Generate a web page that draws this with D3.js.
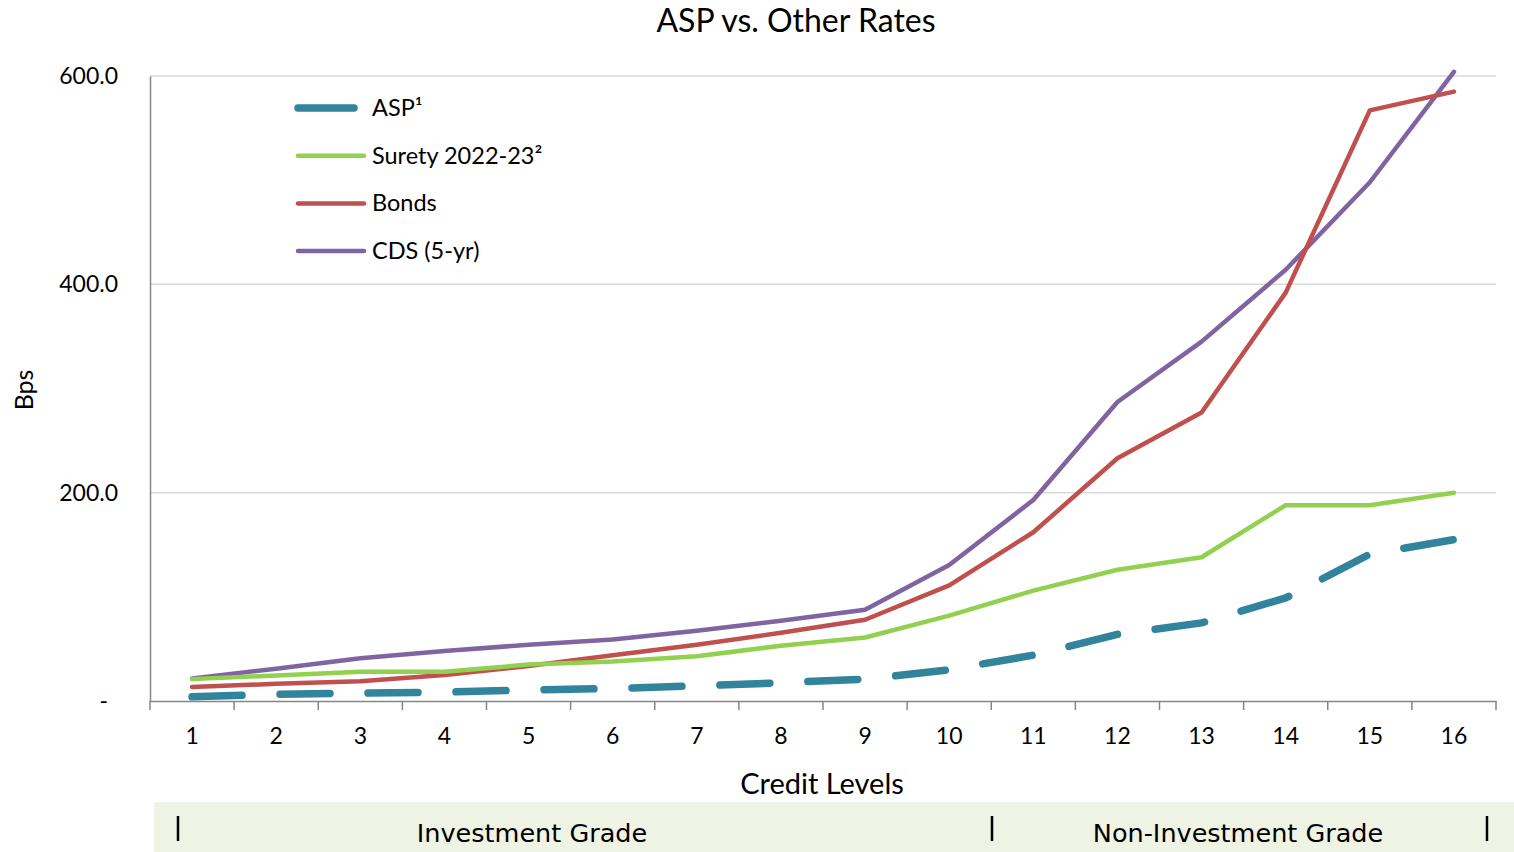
<!DOCTYPE html>
<html>
<head>
<meta charset="utf-8">
<script src="https://cdn.jsdelivr.net/npm/d3@7"></script>
<style>
  body { margin: 0; background: #fff; }
  svg { display: block; }
</style>
</head>
<body>
<div id="chart"></div>
<script>
// data
var levels = ["1","2","3","4","5","6","7","8","9","10","11","12","13","14","15","16"];
var asp    = [4, 6.5, 7.5, 8.5, 10.5, 12, 14.5, 17.5, 21, 30, 44, 64, 75, 99, 141, 155];
var surety = [21, 24.5, 28, 28, 35, 38, 43, 53, 61, 82, 106, 126, 138, 188, 188, 200];
var bonds  = [13.5, 16.5, 19, 25, 33.5, 44, 54, 65.5, 78, 111, 162, 233, 277, 392, 567, 585];
var cds    = [21.5, 31, 41, 48, 54, 59, 67.5, 77, 87.5, 130.5, 193, 287, 345, 414, 498, 604];
var yTicks = [0, 200, 400, 600];
var seriesNames = ["ASP\u00b9", "Surety 2022-23\u00b2", "Bonds", "CDS (5-yr)"];
var seriesColors = ["#31849B", "#92D050", "#C0504D", "#8064A2"];
var groups = [{name: "Investment Grade", from: 0, to: 10}, {name: "Non-Investment Grade", from: 10, to: 16}];

var W = 1514, H = 852;
var plotL = 150, plotR = 1496, plotT = 76, plotB = 701;

var svg = d3.select("#chart").append("svg")
    .attr("width", W)
    .attr("height", H)
    .style("font-family", "Lato, 'Open Sans', sans-serif");

var x = d3.scaleBand().domain(levels).range([plotL, plotR]);
var y = d3.scaleLinear().domain([0, 600]).range([plotB, plotT]);

// title
svg.append("text")
    .attr("x", 796).attr("y", 32)
    .attr("text-anchor", "middle")
    .attr("font-size", 32)
    .text("ASP vs. Other Rates");

// gridlines
svg.append("g").selectAll("line")
    .data(yTicks.filter(function(d){ return d > 0; }))
    .join("line")
    .attr("x1", plotL).attr("x2", plotR)
    .attr("y1", function(d){ return y(d); })
    .attr("y2", function(d){ return y(d); })
    .attr("stroke", "#d9d9d9")
    .attr("stroke-width", 1.5);

// y axis
var yAxis = svg.append("g")
    .attr("transform", "translate(" + plotL + ",0)")
    .call(d3.axisLeft(y).tickValues(yTicks).tickSize(0).tickPadding(32)
        .tickFormat(function(d){ return d === 0 ? "-" : d3.format(".1f")(d); }));
yAxis.select(".domain").attr("stroke", "#868686").attr("stroke-width", 1.5);
yAxis.selectAll("text").attr("font-size", 23).attr("fill", "#000")
    .style("font-family", "Lato, sans-serif");
yAxis.selectAll(".tick").filter(function(d){ return d === 0; })
    .select("text").attr("dx", -10);

// x axis
var xAxis = svg.append("g")
    .attr("transform", "translate(0," + plotB + ")")
    .call(d3.axisBottom(x).tickSize(0).tickPadding(27));
xAxis.select(".domain").attr("stroke", "#868686").attr("stroke-width", 1.5);
xAxis.selectAll("text").attr("font-size", 23).attr("fill", "#000")
    .style("font-family", "Lato, sans-serif");

// tick marks between categories
var bounds = d3.range(levels.length + 1).map(function(i){ return plotL + i * x.step(); });
svg.append("g").selectAll("line")
    .data(bounds)
    .join("line")
    .attr("x1", function(d){ return d; }).attr("x2", function(d){ return d; })
    .attr("y1", plotB).attr("y2", plotB + 9)
    .attr("stroke", "#868686")
    .attr("stroke-width", 1.5);

// axis titles
svg.append("text")
    .attr("x", 822).attr("y", 794)
    .attr("text-anchor", "middle")
    .attr("font-size", 29)
    .text("Credit Levels");

svg.append("text")
    .attr("transform", "translate(33,390) rotate(-90)")
    .attr("text-anchor", "middle")
    .attr("font-size", 25)
    .text("Bps");

// lines
var line = d3.line()
    .x(function(d, i){ return x(levels[i]) + x.bandwidth() / 2; })
    .y(function(d){ return y(d); });

var allSeries = [cds, bonds, surety, asp];
var order = [3, 2, 1, 0];
svg.append("g").selectAll("path")
    .data(allSeries)
    .join("path")
    .attr("d", line)
    .attr("fill", "none")
    .attr("stroke", function(d, i){ return seriesColors[order[i]]; })
    .attr("stroke-width", function(d, i){ return order[i] === 0 ? 7.5 : 4.5; })
    .attr("stroke-dasharray", function(d, i){ return order[i] === 0 ? "50,38" : null; })
    .attr("stroke-linecap", "round")
    .attr("stroke-linejoin", "round");

// legend
var legend = svg.append("g").selectAll("g")
    .data(seriesNames)
    .join("g")
    .attr("transform", function(d, i){ return "translate(0," + (108 + i * 47.7) + ")"; });
legend.append("line")
    .attr("x1", 298).attr("x2", function(d, i){ return i === 0 ? 354 : 364; })
    .attr("stroke", function(d, i){ return seriesColors[i]; })
    .attr("stroke-width", function(d, i){ return i === 0 ? 7.5 : 4.5; })
    .attr("stroke-linecap", "round");
legend.append("text")
    .attr("x", 372).attr("y", 8)
    .attr("font-size", 23.5)
    .text(function(d){ return d; });

// grade band
svg.append("rect")
    .attr("x", 154).attr("y", 802)
    .attr("width", 1360).attr("height", 50)
    .attr("fill", "#EEF3E4");

var g = svg.append("g").style("font-family", "'URW Gothic', 'Century Gothic', 'DejaVu Sans', sans-serif");
g.selectAll("text.grp")
    .data(groups)
    .join("text")
    .attr("class", "grp")
    .attr("x", function(d, i){ return i === 0 ? 532 : 1238; })
    .attr("y", 842)
    .attr("text-anchor", "middle")
    .attr("font-size", 25.5)
    .text(function(d){ return d.name; });
g.selectAll("line.sep")
    .data([178, 992, 1487])
    .join("line")
    .attr("class", "sep")
    .attr("x1", function(d){ return d; }).attr("x2", function(d){ return d; })
    .attr("y1", 816).attr("y2", 841)
    .attr("stroke", "#000")
    .attr("stroke-width", 2.5);
</script>
</body>
</html>
